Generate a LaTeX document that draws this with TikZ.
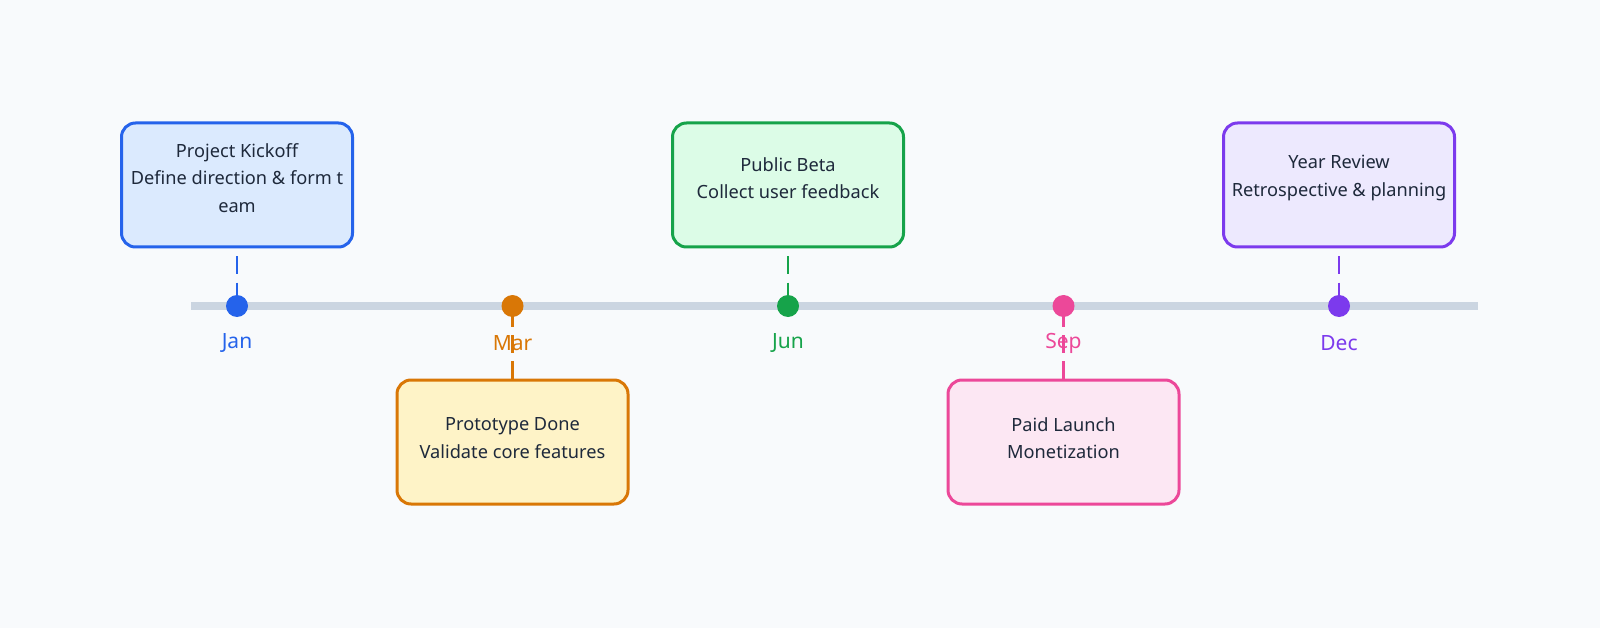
\documentclass[tikz,border=0pt]{standalone}
\usepackage{fontspec}
\setmainfont{Noto Sans}
\usepackage{xcolor}
\usetikzlibrary{positioning,calc}

\definecolor{bgcol}{HTML}{F8FAFC}
\definecolor{axiscol}{HTML}{CBD5E1}
\definecolor{ink}{HTML}{1E293B}
\definecolor{jancol}{HTML}{2563EB}
\definecolor{janfill}{HTML}{DBEAFE}
\definecolor{marcol}{HTML}{D97706}
\definecolor{marfill}{HTML}{FEF3C7}
\definecolor{juncol}{HTML}{16A34A}
\definecolor{junfill}{HTML}{DCFCE7}
\definecolor{sepcol}{HTML}{EC4899}
\definecolor{sepfill}{HTML}{FCE7F3}
\definecolor{deccol}{HTML}{7C3AED}
\definecolor{decfill}{HTML}{EDE9FE}

\begin{document}
\begin{tikzpicture}[
    x=1pt, y=-1pt,
    font=\fontsize{18.2}{27.5}\selectfont,
    card/.style={
        draw,
        rounded corners=14pt,
        line width=3pt,
        minimum width=231pt,
        minimum height=124pt
    },
    cardtext/.style={align=center, text=ink},
    dot/.style={circle, inner sep=0pt, minimum size=22pt},
    month/.style={font=\fontsize{21}{24}\selectfont},
    stem/.style={line width=2.8pt, dash pattern=on 18pt off 8pt},
    upstem/.style={stem, dash phase=18pt}
]

\fill[bgcol] (0,0) rectangle (1600,628);
\useasboundingbox (0,0) rectangle (1600,628);

% the axis
\coordinate (axisl) at (191,306);
\coordinate (axisr) at (1478,306);
\draw[axiscol, line width=8pt] (axisl) -- (axisr);

\node[dot, fill=jancol] (jan) at (237,306) {};
\node[dot, fill=marcol] (mar) at (512.5,306) {};
\node[dot, fill=juncol] (jun) at (788,306) {};
\node[dot, fill=sepcol] (sep) at (1063.5,306) {};
\node[dot, fill=deccol] (dec) at (1339,306) {};

\node[month, text=jancol] (janlbl) at ([yshift=-37pt]jan.center) {Jan};
\node[month, text=marcol] (marlbl) at ([yshift=-37pt]mar.center) {Mar};
\node[month, text=juncol] (junlbl) at ([yshift=-37pt]jun.center) {Jun};
\node[month, text=sepcol] (seplbl) at ([yshift=-37pt]sep.center) {Sep};
\node[month, text=deccol] (declbl) at ([yshift=-37pt]dec.center) {Dec};

% milestone cards
\node[card, draw=jancol, fill=janfill] (kick) at (237,185) {};
\node[cardtext] (kicktxt) at ([yshift=7pt]kick.center)
    {Project Kickoff\\Define direction \& form t\\eam};

\node[card, draw=marcol, fill=marfill] (proto) at (512.5,442) {};
\node[cardtext] (prototxt) at ([yshift=4pt]proto.center)
    {Prototype Done\\Validate core features};

\node[card, draw=juncol, fill=junfill] (beta) at (788,185) {};
\node[cardtext] (betatxt) at ([yshift=7pt]beta.center)
    {Public Beta\\Collect user feedback};

\node[card, draw=sepcol, fill=sepfill] (paid) at (1063.5,442) {};
\node[cardtext] (paidtxt) at ([yshift=4pt]paid.center)
    {Paid Launch\\Monetization};

\node[card, draw=deccol, fill=decfill] (review) at (1339,185) {};
\node[cardtext] (reviewtxt) at ([yshift=7pt]review.center)
    {Year Review\\Retrospective \& planning};

% stems
\draw[upstem, jancol] (kick.south) -- (jan.center);
\draw[stem, marcol] (proto.north) -- (mar.center);
\draw[upstem, juncol] (beta.south) -- (jun.center);
\draw[stem, sepcol] (paid.north) -- (sep.center);
\draw[upstem, deccol] (review.south) -- (dec.center);

\end{tikzpicture}
\end{document}
